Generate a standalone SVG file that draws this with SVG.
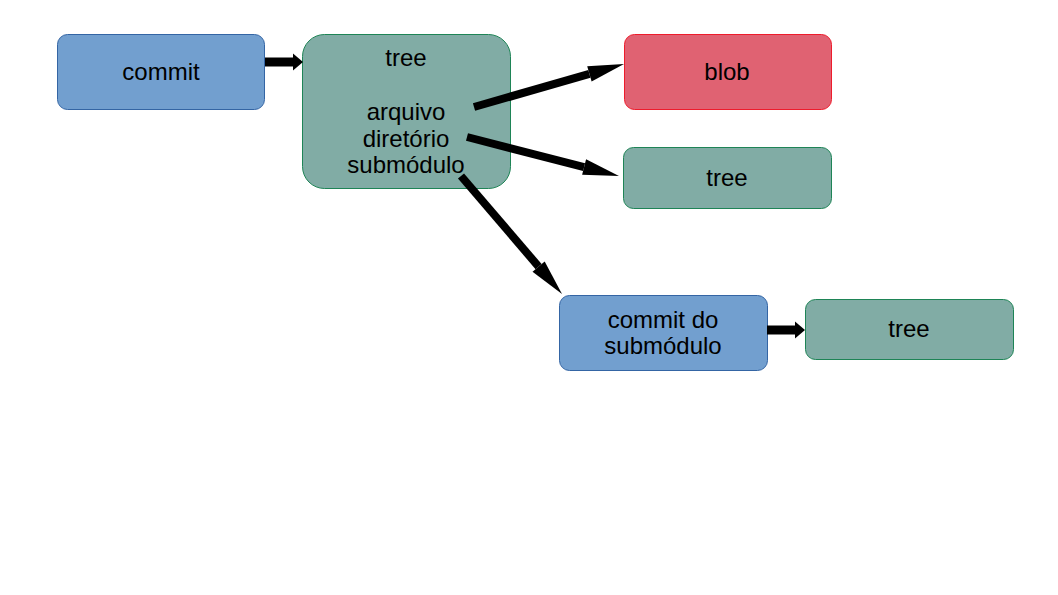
<svg xmlns="http://www.w3.org/2000/svg" width="1058" height="595" viewBox="0 0 1058 595">
<style>
.t{font-family:"Liberation Sans",Arial,sans-serif;font-size:24px;fill:#000;text-anchor:middle}
.blue{fill:#729fcf;stroke:#3465a4;stroke-width:1}
.green{fill:#81aca5;stroke:#1e8456;stroke-width:1}
.red{fill:#e06272;stroke:#ee1c2c;stroke-width:1}
.c{stroke:#000;fill:none}
</style>
<defs>
<marker id="big" markerUnits="userSpaceOnUse" markerWidth="36" markerHeight="16" refX="0" refY="8" orient="auto" overflow="visible">
<path d="M0,0 L36,8 L0,16 z" fill="#000"/>
</marker>
<marker id="small" markerUnits="userSpaceOnUse" markerWidth="10" markerHeight="17" refX="0" refY="8.5" orient="auto" overflow="visible">
<path d="M0,0 L10,8.5 L0,17 z" fill="#000"/>
</marker>
</defs>
<rect width="1058" height="595" fill="#fff"/>
<g id="commit">
<rect class="blue" x="57.5" y="34.5" width="207" height="75" rx="10"/>
<text class="t" x="161" y="80">commit</text>
</g>
<g id="tree-main">
<rect class="green" x="302.5" y="34.5" width="208" height="154" rx="22"/>
<text class="t" x="406" y="66">tree</text>
<text class="t" x="406" y="120">arquivo</text>
<text class="t" x="406" y="147">diretório</text>
<text class="t" x="406" y="173">submódulo</text>
</g>
<g id="blob">
<rect class="red" x="624.5" y="34.5" width="207" height="75" rx="10"/>
<text class="t" x="727" y="80">blob</text>
</g>
<g id="tree-sub">
<rect class="green" x="623.5" y="147.5" width="208" height="61" rx="10"/>
<text class="t" x="727" y="186">tree</text>
</g>
<g id="commit-submodulo">
<rect class="blue" x="559.5" y="295.5" width="208" height="75" rx="10"/>
<text class="t" x="663" y="328">commit do</text>
<text class="t" x="663" y="354">submódulo</text>
</g>
<g id="tree-submodulo">
<rect class="green" x="805.5" y="299.5" width="208" height="60" rx="10"/>
<text class="t" x="909" y="337">tree</text>
</g>
<g id="connectors">
<line class="c" x1="265" y1="62" x2="293" y2="62" stroke-width="9" marker-end="url(#small)"/>
<line class="c" x1="474" y1="107" x2="589.4" y2="73.9" stroke-width="8" marker-end="url(#big)"/>
<line class="c" x1="467" y1="137" x2="584.1" y2="167.1" stroke-width="8" marker-end="url(#big)"/>
<line class="c" x1="461" y1="176" x2="538.6" y2="266.6" stroke-width="8" marker-end="url(#big)"/>
<line class="c" x1="767" y1="330" x2="795" y2="330" stroke-width="9" marker-end="url(#small)"/>
</g>
</svg>
